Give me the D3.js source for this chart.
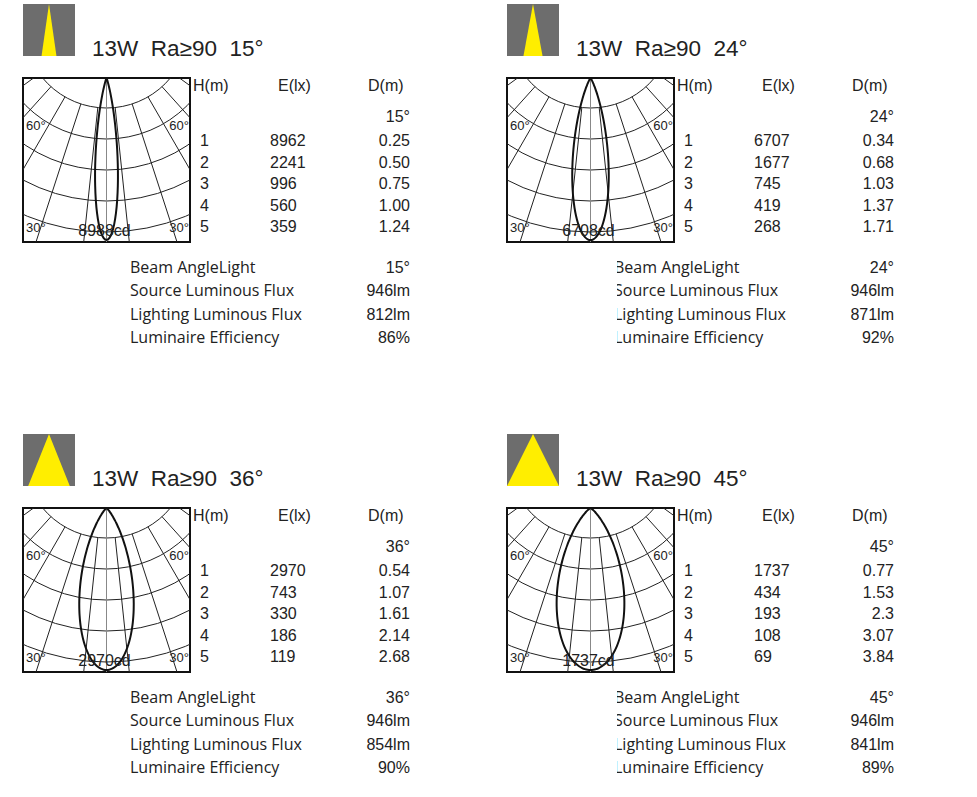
<!DOCTYPE html><html><head><meta charset="utf-8">
<script src="https://cdn.jsdelivr.net/npm/d3@7"></script>
<style>body{margin:0;background:#fff}text{white-space:pre}</style></head><body>
<script>
const beamAngles=[15,24,36,45];
const peakCd=["8988cd","6708cd","2970cd","1737cd"];
const heights=[1,2,3,4,5];
const illum=[[8962,2241,996,560,359],[6707,1677,745,419,268],[2970,743,330,186,119],[1737,434,193,108,69]];
const diam=[["0.25","0.50","0.75","1.00","1.24"],["0.34","0.68","1.03","1.37","1.71"],["0.54","1.07","1.61","2.14","2.68"],["0.77","1.53","2.3","3.07","3.84"]];
const infoLabels=["Beam AngleLight","Source Luminous Flux","Lighting Luminous Flux","Luminaire Efficiency"];
const sourceFlux=[946,946,946,946];
const lightFlux=[812,871,854,841];
const efficiency=[86,92,90,89];
const offsets=[[0,0],[484,0],[0,430],[484,430]];

const svg=d3.select("body").append("svg").attr("width",977).attr("height",797);
const defs=svg.append("defs");
beamAngles.forEach((ba,i)=>{
  const [ox,oy]=offsets[i];
  const g=svg.append("g").attr("transform",`translate(${ox},${oy})`);
  const iw=d3.scaleLinear().domain([0,45]).range([0,26]);
  g.append("rect").attr("x",23).attr("y",4).attr("width",52).attr("height",52).attr("fill","#6d6d6d");
  const hw=iw(ba)*(ba<30?0.4:1)+ (ba<30?4:0);
  g.append("path").attr("d",`M49,4 L${49-hw},56 L${49+hw},56 Z`).attr("fill","#ffee00");
  g.append("text").attr("x",92).attr("y",56).attr("font-family","Liberation Sans, Arial").attr("font-size",22.5).attr("fill","#222")
   .text(`13W  Ra≥90  ${ba}°`);
  const bx=23,by=78,bw=167,bh=164,cx=bx+bw/2,cy=by-53;
  const cid="clip"+i;
  defs.append("clipPath").attr("id",cid).append("rect").attr("x",bx+ox).attr("y",by+oy).attr("width",bw).attr("height",bh);
  const grid=svg.append("g").attr("clip-path",`url(#${cid})`).append("g").attr("transform",`translate(${ox},${oy})`);
  const radii=d3.range(0,7).map(k=>83+31*k);
  radii.forEach(r=>grid.append("circle").attr("cx",cx).attr("cy",cy).attr("r",r).attr("fill","none").attr("stroke","#222").attr("stroke-width",1));
  d3.range(-90,91,12).forEach(a=>{
    const t=a*Math.PI/180;
    grid.append("line").attr("x1",cx+83*Math.sin(t)).attr("y1",cy+83*Math.cos(t)).attr("x2",cx+400*Math.sin(t)).attr("y2",cy+400*Math.cos(t)).attr("stroke","#222").attr("stroke-width",1);
  });
  grid.append("line").attr("x1",cx).attr("x2",cx).attr("y1",by).attr("y2",by+bh).attr("stroke","#888");
  const half=ba/2*Math.PI/180;
  const rs=d3.scaleLinear().domain([0,1]).range([0,bh-2]);
  const pts=d3.range(-90,90.5,1).map(d=>{const t=d*Math.PI/180;const I=Math.pow(Math.max(Math.cos(t),0),Math.log(0.5)/Math.log(Math.cos(half*1.05)));return [t,rs(I)];});
  grid.append("path").attr("d",d3.lineRadial().angle(d=>Math.PI-d[0]).radius(d=>d[1]).curve(d3.curveCardinal)(pts))
    .attr("transform",`translate(${cx},${by})`).attr("fill","none").attr("stroke","#111").attr("stroke-width",2);
  const lab=(x,y,t,a)=>grid.append("text").attr("x",x).attr("y",y).attr("text-anchor",a||"start").attr("font-family","Liberation Sans, Arial").attr("font-size",13).attr("fill","#222").text(t);
  lab(bx+3,by+52,"60°");lab(bx+bw-1,by+52,"60°","end");lab(bx+3,by+154,"30°");lab(bx+bw-1,by+154,"30°","end");
  lab(cx-2,by+158,peakCd[i],"middle").attr("font-size",16);
  g.append("rect").attr("x",bx).attr("y",by).attr("width",bw).attr("height",bh).attr("fill","none").attr("stroke","#111").attr("stroke-width",2);
  const T=(x,y,t,a,s)=>g.append("text").attr("x",x).attr("y",y).attr("text-anchor",a||"start").attr("font-family","Liberation Sans, Arial").attr("font-size",s||16).attr("fill","#222").text(t);
  T(193,91,"H(m)");T(278,91,"E(lx)");T(368,91,"D(m)");
  T(410,122,ba+"°","end");
  const ry=d3.scalePoint().domain(heights).range([146,232]);
  heights.forEach((h,j)=>{T(200,ry(h),h);T(270,ry(h),illum[i][j]);T(410,ry(h),diam[i][j],"end");});
  const iy=d3.scalePoint().domain(infoLabels).range([273,343]);
  const vals=[ba+"°",sourceFlux[i]+"lm",lightFlux[i]+"lm",efficiency[i]+"%"];
  let lg=g;
  if(ox>0){const cid2="cl2"+i;defs.append("clipPath").attr("id",cid2).append("rect").attr("x",ox+133).attr("y",0).attr("width",400).attr("height",800);
    lg=svg.append("g").attr("clip-path",`url(#${cid2})`).append("g").attr("transform",`translate(${ox},${oy})`);}
  infoLabels.forEach((l,j)=>{
    lg.append("text").attr("x",130).attr("y",iy(l)).attr("font-family","Open Sans").attr("font-size",16).attr("fill","#222").text(l);
    T(410,iy(l),vals[j],"end");
  });
});
</script></body></html>
